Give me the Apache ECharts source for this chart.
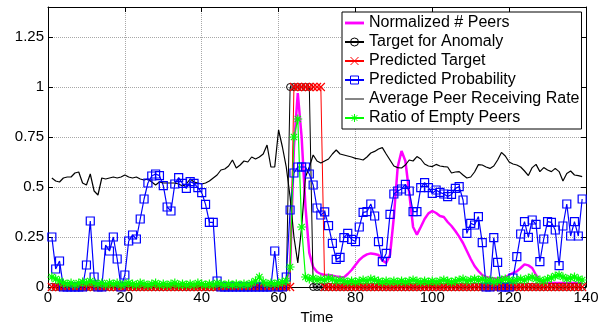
<!DOCTYPE html>
<html>
<head>
<meta charset="utf-8">
<script src="https://cdn.jsdelivr.net/npm/echarts@6/dist/echarts.min.js"></script>
<style>
  html, body { margin: 0; padding: 0; background: #fff; }
  #main { width: 607px; height: 322px; }
</style>
</head>
<body>
<div id="main"></div>
<script>
// time steps start at 1, one value per step
var startTime = 1;

var normalizedPeers = [
  0.01, 0.01, 0.01, 0.01, 0.01, 0.01, 0.01, 0.01, 0.01, 0.01,
  0.01, 0.01, 0.01, 0.01, 0.01, 0.01, 0.01, 0.01, 0.01, 0.01,
  0.01, 0.01, 0.01, 0.01, 0.01, 0.01, 0.01, 0.01, 0.01, 0.01,
  0.01, 0.01, 0.01, 0.01, 0.01, 0.01, 0.01, 0.01, 0.01, 0.01,
  0.01, 0.01, 0.01, 0.01, 0.01, 0.01, 0.01, 0.01, 0.01, 0.01,
  0.01, 0.01, 0.01, 0.01, 0.01, 0.01, 0.01, 0.01, 0.01, 0.01,
  0.01, 0.03, 0.1, 0.7, 0.97, 0.75, 0.4, 0.17, 0.1, 0.075,
  0.065, 0.06, 0.06, 0.057, 0.053, 0.05, 0.048, 0.065, 0.085, 0.11,
  0.135, 0.152, 0.163, 0.168, 0.165, 0.16, 0.133, 0.12, 0.16, 0.35,
  0.6, 0.68, 0.63, 0.47, 0.3, 0.262, 0.3, 0.34, 0.368, 0.38,
  0.37, 0.355, 0.35, 0.325, 0.305, 0.28, 0.252, 0.22, 0.18, 0.14,
  0.105, 0.08, 0.06, 0.05, 0.045, 0.043, 0.043, 0.045, 0.05, 0.06,
  0.07, 0.078, 0.095, 0.113, 0.108, 0.095, 0.06, 0.03, 0.02, 0.02,
  0.02, 0.02, 0.02, 0.02, 0.02, 0.02, 0.02, 0.02, 0.02
];

var targetAnomaly = [
  0, 0, 0, 0, 0, 0, 0, 0, 0, 0,
  0, 0, 0, 0, 0, 0, 0, 0, 0, 0,
  0, 0, 0, 0, 0, 0, 0, 0, 0, 0,
  0, 0, 0, 0, 0, 0, 0, 0, 0, 0,
  0, 0, 0, 0, 0, 0, 0, 0, 0, 0,
  0, 0, 0, 0, 0, 0, 0, 0, 0, 0,
  0, 0, 1, 1, 1, 1, 1, 1, 0, 0,
  0, 0, 0, 0, 0, 0, 0, 0, 0, 0,
  0, 0, 0, 0, 0, 0, 0, 0, 0, 0,
  0, 0, 0, 0, 0, 0, 0, 0, 0, 0,
  0, 0, 0, 0, 0, 0, 0, 0, 0, 0,
  0, 0, 0, 0, 0, 0, 0, 0, 0, 0,
  0, 0, 0, 0, 0, 0, 0, 0, 0, 0,
  0, 0, 0, 0, 0, 0, 0, 0, 0
];

var predictedTarget = [
  0, 0, 0, 0, 0, 0, 0, 0, 0, 0,
  0, 0, 0, 0, 0, 0, 0, 0, 0, 0,
  0, 0, 0, 0, 0, 0, 0, 0, 0, 0,
  0, 0, 0, 0, 0, 0, 0, 0, 0, 0,
  0, 0, 0, 0, 0, 0, 0, 0, 0, 0,
  0, 0, 0, 0, 0, 0, 0, 0, 0, 0,
  0, 0, 0, 1, 1, 1, 1, 1, 1, 1,
  1, 0, 0, 0, 0, 0, 0, 0, 0, 0,
  0, 0, 0, 0, 0, 0, 0, 0, 0, 0,
  0, 0, 0, 0, 0, 0, 0, 0, 0, 0,
  0, 0, 0, 0, 0, 0, 0, 0, 0, 0,
  0, 0, 0, 0, 0, 0, 0, 0, 0, 0,
  0, 0, 0, 0, 0, 0, 0, 0, 0, 0,
  0, 0, 0, 0, 0, 0, 0, 0, 0
];

var predictedProb = [
  0.25, 0.09, 0.13, 0, 0, 0, 0, 0, 0, 0.11,
  0.33, 0.05, 0, 0, 0.21, 0.18, 0.25, 0.14, 0, 0.06,
  0.23, 0.26, 0.24, 0.34, 0.44, 0.52, 0.555, 0.565, 0.557, 0.507,
  0.40, 0.38, 0.515, 0.547, 0.518, 0.493, 0.527, 0.518, 0.497, 0.472,
  0.413, 0.323, 0.323, 0.03, 0, 0, 0, 0, 0, 0,
  0, 0, 0, 0, 0, 0, 0, 0, 0.18, 0,
  0, 0.05, 0.385, 0.57, 0.6, 0.6, 0.6, 0.565, 0.51, 0.395,
  0.36, 0.376, 0.307, 0.218, 0.138, 0.148, 0.247, 0.268, 0.238, 0.227,
  0.30, 0.373, 0.377, 0.415, 0.355, 0.227, 0.127, 0.168, 0.363, 0.465,
  0.48, 0.49, 0.513, 0.48, 0.377, 0.377, 0.497, 0.522, 0.497, 0.468,
  0.485, 0.473, 0.465, 0.452, 0.463, 0.493, 0.502, 0.435, 0.268, 0.318,
  0.31, 0.352, 0.222, 0, 0, 0.247, 0.123, 0, 0, 0,
  0.045, 0.152, 0.265, 0.327, 0.248, 0.335, 0.313, 0.127, 0.24, 0.327,
  0.323, 0.285, 0.107, 0.305, 0.415, 0.255, 0.327, 0.255, 0.44
];

var avgReceivingRate = [
  0.545, 0.53, 0.525, 0.545, 0.55, 0.55, 0.57, 0.575, 0.52, 0.51,
  0.565, 0.48, 0.46, 0.545, 0.54, 0.545, 0.55, 0.545, 0.55, 0.56,
  0.55, 0.545, 0.55, 0.54, 0.535, 0.54, 0.525, 0.51, 0.525, 0.52,
  0.52, 0.52, 0.52, 0.515, 0.505, 0.515, 0.54, 0.525, 0.52, 0.515,
  0.52, 0.53, 0.545, 0.56, 0.585, 0.59, 0.605, 0.635, 0.595, 0.61,
  0.63, 0.625, 0.65, 0.64, 0.65, 0.665, 0.71, 0.6, 0.6, 0.785,
  0.70, 0.60, 0.45, 0.25, 0.12, 0.30, 0.55, 0.60, 0.66, 0.63,
  0.62, 0.63, 0.64, 0.665, 0.685, 0.665, 0.66, 0.655, 0.65, 0.643,
  0.64, 0.635, 0.65, 0.67, 0.678, 0.69, 0.697, 0.665, 0.635, 0.605,
  0.597, 0.595, 0.61, 0.635, 0.63, 0.652, 0.64, 0.615, 0.605, 0.602,
  0.613, 0.605, 0.602, 0.6, 0.57, 0.575, 0.577, 0.56, 0.545, 0.55,
  0.575, 0.612, 0.61, 0.6, 0.593, 0.605, 0.635, 0.673, 0.655, 0.625,
  0.615, 0.61, 0.60, 0.58, 0.557, 0.597, 0.613, 0.577, 0.597, 0.585,
  0.577, 0.593, 0.577, 0.53, 0.568, 0.58, 0.56, 0.557, 0.552
];

var emptyPeersRatio = [
  0.05, 0.04, 0.03, 0.02, 0.015, 0.02, 0.01, 0.02, 0.025, 0.02,
  0.03, 0.02, 0.015, 0.02, 0.01, 0.02, 0.015, 0.02, 0.01, 0.015,
  0.02, 0.015, 0.01, 0.02, 0.015, 0.01, 0.015, 0.02, 0.01, 0.015,
  0.01, 0.015, 0.02, 0.01, 0.015, 0.01, 0.015, 0.01, 0.02, 0.015,
  0.01, 0.015, 0.01, 0.02, 0.015, 0.01, 0.015, 0.01, 0.015, 0.01,
  0.015, 0.01, 0.02, 0.03, 0.05, 0.025, 0.015, 0.02, 0.015, 0.02,
  0.025, 0.03, 0.1, 0.75, 0.84, 0.3, 0.05, 0.04, 0.045, 0.035,
  0.04, 0.035, 0.045, 0.04, 0.03, 0.035, 0.03, 0.025, 0.03, 0.025,
  0.03, 0.035, 0.03, 0.04, 0.035, 0.03, 0.025, 0.03, 0.025, 0.03,
  0.025, 0.03, 0.025, 0.03, 0.035, 0.03, 0.025, 0.03, 0.025, 0.03,
  0.025, 0.03, 0.035, 0.03, 0.025, 0.03, 0.035, 0.04, 0.03, 0.035,
  0.04, 0.035, 0.04, 0.03, 0.035, 0.025, 0.03, 0.035, 0.04, 0.035,
  0.03, 0.035, 0.04, 0.035, 0.045, 0.05, 0.04, 0.035, 0.03, 0.04,
  0.045, 0.055, 0.06, 0.05, 0.04, 0.045, 0.05, 0.04, 0.035
];

var yTickLabels = [0, 0.25, 0.5, 0.75, 1, 1.25];

var font = 'Liberation Sans, Arial, Helvetica, sans-serif';

function toPoints(values) {
  return values.map(function (v, i) { return [startTime + i, v]; });
}

var chart = echarts.init(document.getElementById('main'));

var tickLine = { color: '#000', width: 1 };
var grey = { type: 'dotted', color: '#a8a8a8', width: 1 };

chart.setOption({
  animation: false,
  backgroundColor: '#fff',
  grid: { left: 48, right: 21, top: 7, bottom: 35, outerBoundsMode: 'none' },
  xAxis: [{
    type: 'value', min: 0, max: 140, interval: 20,
    name: 'Time', nameLocation: 'middle', nameGap: 16,
    nameTextStyle: { fontSize: 15, color: '#000', fontFamily: font },
    axisLine: { onZero: false, lineStyle: tickLine },
    axisTick: { inside: true, length: 5, lineStyle: tickLine },
    axisLabel: { fontSize: 15, color: '#000', margin: 3, fontFamily: font },
    splitLine: { show: true, lineStyle: grey }
  }, {
    type: 'value', min: 0, max: 140, interval: 20, position: 'top',
    axisLine: { onZero: false, lineStyle: tickLine },
    axisTick: { inside: true, length: 5, lineStyle: tickLine },
    axisLabel: { show: false }, splitLine: { show: false }
  }],
  yAxis: [{
    type: 'value', min: 0, max: 1.4, interval: 0.25,
    axisLine: { show: true, onZero: false, lineStyle: tickLine },
    axisTick: { show: true, inside: true, length: 5, lineStyle: tickLine },
    axisLabel: {
      fontSize: 15, color: '#000', margin: 4, fontFamily: font,
      formatter: function (v) { return yTickLabels.indexOf(v) > -1 ? String(v) : ''; }
    },
    splitLine: { show: true, lineStyle: grey }
  }, {
    type: 'value', min: 0, max: 1.4, interval: 0.25, position: 'right',
    axisLine: { show: true, onZero: false, lineStyle: tickLine },
    axisTick: { show: true, inside: true, length: 5, lineStyle: tickLine },
    axisLabel: { show: false }, splitLine: { show: false }
  }],
  legend: {
    orient: 'vertical', left: 342, top: 12,
    padding: [3, 2, 3, 2], itemGap: 3, itemWidth: 19, itemHeight: 10,
    backgroundColor: '#fff', borderColor: '#000', borderWidth: 1, borderRadius: 0,
    textStyle: { fontSize: 16, color: '#000', fontFamily: font, lineHeight: 16 },
    itemStyle: { borderWidth: 1 },
    data: [
      { name: 'Normalized # Peers', icon: 'path://M0,0h20v3h-20z' },
      'Target for Anomaly',
      'Predicted Target',
      'Predicted Probability',
      { name: 'Average Peer Receiving Rate', icon: 'path://M0,0h20v1h-20z' },
      'Ratio of Empty Peers'
    ]
  },
  series: [{
    name: 'Normalized # Peers', type: 'line', data: toPoints(normalizedPeers),
    symbol: 'none', lineStyle: { color: '#ff00ff', width: 2.5 }, itemStyle: { color: '#ff00ff' }
  }, {
    name: 'Target for Anomaly', type: 'line', data: toPoints(targetAnomaly),
    symbol: 'circle', symbolSize: 7, showAllSymbol: true,
    lineStyle: { color: '#000', width: 1 },
    itemStyle: { color: 'rgba(0,0,0,0)', borderColor: '#000', borderWidth: 1 }
  }, {
    name: 'Predicted Target', type: 'line', data: toPoints(predictedTarget),
    symbol: 'path://M0,0L10,10M10,0L0,10', symbolSize: 8, showAllSymbol: true,
    lineStyle: { color: '#ff0000', width: 1 },
    itemStyle: { color: 'rgba(0,0,0,0)', borderColor: '#ff0000', borderWidth: 1.2 }
  }, {
    name: 'Predicted Probability', type: 'line', data: toPoints(predictedProb),
    symbol: 'rect', symbolSize: 8, showAllSymbol: true,
    lineStyle: { color: '#0000ff', width: 1.2 },
    itemStyle: { color: 'rgba(0,0,0,0)', borderColor: '#0000ff', borderWidth: 1.2 }
  }, {
    name: 'Average Peer Receiving Rate', type: 'line', data: toPoints(avgReceivingRate),
    symbol: 'none', lineStyle: { color: '#000', width: 1.2 }, itemStyle: { color: '#000' }
  }, {
    name: 'Ratio of Empty Peers', type: 'line', data: toPoints(emptyPeersRatio),
    symbol: 'path://M0,5L10,5M5,0L5,10M1.5,1.5L8.5,8.5M8.5,1.5L1.5,8.5', symbolSize: 9, showAllSymbol: true,
    lineStyle: { color: '#00ff00', width: 1.2 },
    itemStyle: { color: 'rgba(0,0,0,0)', borderColor: '#00ff00', borderWidth: 1.2 }
  }]
});
</script>
</body>
</html>
